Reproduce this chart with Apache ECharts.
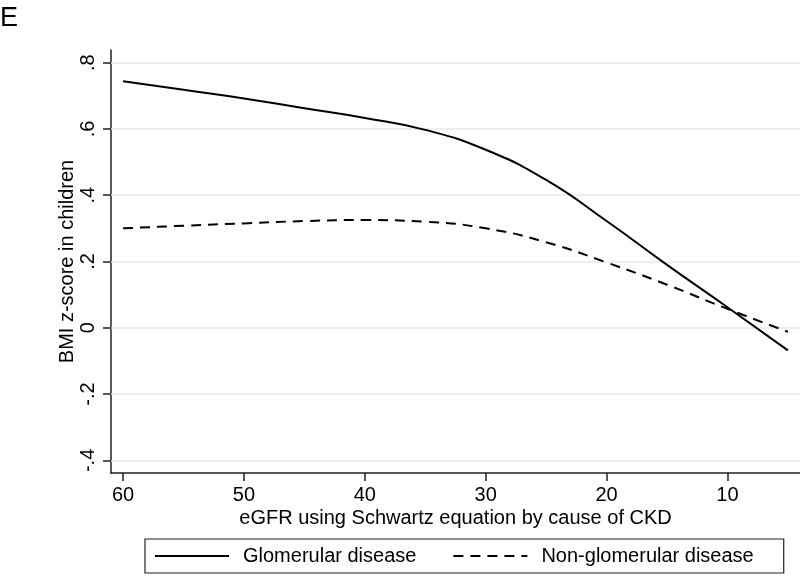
<!DOCTYPE html>
<html>
<head>
<meta charset="utf-8">
<script src="https://cdn.jsdelivr.net/npm/echarts@6/dist/echarts.min.js"></script>
<style>
html,body{margin:0;padding:0;background:#fff;}
#chart{width:800px;height:576px;}
</style>
</head>
<body>
<div id="chart"></div>
<script>
// Data
var eGFR = [60, 55, 50, 45, 40, 35, 30, 25, 20, 15, 10, 5];
var glomerular = [0.744, 0.718, 0.692, 0.662, 0.633, 0.597, 0.537, 0.446, 0.322, 0.190, 0.062, -0.068];
var nonGlomerular = [0.300, 0.308, 0.315, 0.322, 0.325, 0.320, 0.300, 0.258, 0.197, 0.130, 0.057, -0.012];
var xTicks = [60, 50, 40, 30, 20, 10];
var yTicks = [-0.4, -0.2, 0, 0.2, 0.4, 0.6, 0.8];
var yTickLabels = ['-.4', '-.2', '0', '.2', '.4', '.6', '.8'];
var seriesNames = ['Glomerular disease', 'Non-glomerular disease'];

var FONT = 'Liberation Sans, Arial, Helvetica, sans-serif';
function pairs(xs, ys) { return xs.map(function (x, i) { return [x, ys[i]]; }); }
function yLabel(v) {
  for (var i = 0; i < yTicks.length; i++) if (Math.abs(yTicks[i] - v) < 1e-6) return yTickLabels[i];
  return '';
}

var chart = echarts.init(document.getElementById('chart'), null, {renderer: 'canvas'});
chart.setOption({
  animation: false,
  backgroundColor: '#fff',
  title: {
    text: 'E', left: 0, top: 5, padding: 0,
    textStyle: {fontFamily: FONT, fontSize: 27, fontWeight: 'normal', color: '#000'}
  },
  grid: {left: 111, right: 0, top: 50, bottom: 103, containLabel: false},
  xAxis: {
    type: 'value', inverse: true, min: 4, max: 61,
    name: 'eGFR using Schwartz equation by cause of CKD',
    nameLocation: 'middle', nameGap: 35, nameMoveOverlap: false,
    nameTextStyle: {fontFamily: FONT, fontSize: 20, color: '#000'},
    axisLine: {show: true, onZero: false, lineStyle: {color: '#222', width: 1.5}},
    axisTick: {show: true, customValues: xTicks, length: 8, lineStyle: {color: '#222', width: 1.5}},
    axisLabel: {customValues: xTicks, margin: 12, fontFamily: FONT, fontSize: 20, color: '#000'},
    splitLine: {show: false}
  },
  yAxis: {
    type: 'value', min: -0.438, max: 0.838,
    name: 'BMI z-score in children',
    nameLocation: 'middle', nameGap: 34, nameRotate: 90, nameMoveOverlap: false,
    nameTextStyle: {fontFamily: FONT, fontSize: 20, color: '#000'},
    axisLine: {show: true, onZero: false, lineStyle: {color: '#222', width: 1.5}},
    axisTick: {show: true, customValues: yTicks, length: 8, lineStyle: {color: '#222', width: 1.5}},
    axisLabel: {customValues: yTicks, rotate: 90, margin: 13, fontFamily: FONT, fontSize: 20, color: '#000',
      formatter: function (v) { return yLabel(v); }},
    splitLine: {show: false}
  },
  legend: {
    data: seriesNames,
    left: 145, top: 539,
    orient: 'horizontal',
    itemWidth: 74, itemHeight: 24, itemGap: 36,
    padding: [7, 30, 7, 9],
    borderColor: '#222', borderWidth: 1.2, borderRadius: 0,
    itemStyle: {opacity: 0},
    textStyle: {fontFamily: FONT, fontSize: 20, color: '#000', padding: [0, 0, 0, 9]},
    selectedMode: false
  },
  series: [
    {
      name: 'grid', type: 'line', data: [], z: 1, silent: true,
      markLine: {
        silent: true, symbol: 'none', label: {show: false},
        lineStyle: {color: '#e9e9e9', width: 1.6, type: 'solid'},
        data: yTicks.map(function (v) { return {yAxis: v}; })
      }
    },
    {
      name: seriesNames[0], type: 'line', z: 5,
      data: pairs(eGFR, glomerular), smooth: 0.5, symbol: 'none',
      lineStyle: {color: '#000', width: 2, type: 'solid'},
      itemStyle: {color: '#000'}
    },
    {
      name: seriesNames[1], type: 'line', z: 5,
      data: pairs(eGFR, nonGlomerular), smooth: 0.5, symbol: 'none',
      lineStyle: {color: '#000', width: 2, type: [10, 7]},
      itemStyle: {color: '#000'}
    }
  ]
});
</script>
</body>
</html>
